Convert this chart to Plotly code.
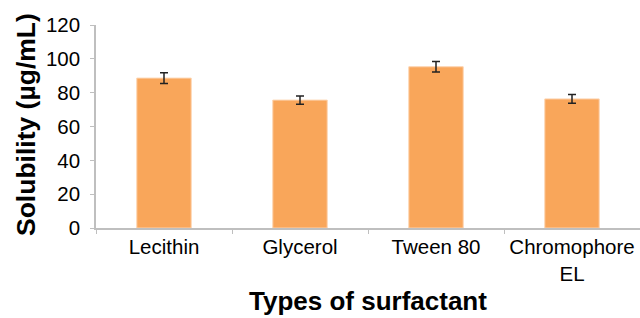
import plotly.graph_objects as go

categories = ["Lecithin", "Glycerol", "Tween 80", "Chromophore<br>EL"]
solubility = [88.6, 75.6, 95.3, 76.3]
errors = [3.2, 2.4, 3.1, 2.6]
y_ticks = [0, 20, 40, 60, 80, 100, 120]

fig = go.Figure()
fig.add_trace(go.Bar(
    x=categories,
    y=solubility,
    width=0.4,
    marker=dict(color="#F9A65A", line=dict(color="#FCD3AE", width=1)),
    error_y=dict(type="data", array=errors, visible=True,
                 color="#222222", thickness=1.5, width=4),
))

L, T, B = 96, 25, 90
W, H = 640, 318
pw = W - L
ph = H - T - B

fig.update_layout(
    width=W, height=H,
    margin=dict(l=L, r=0, t=T, b=B, autoexpand=False),
    plot_bgcolor="white", paper_bgcolor="white",
    font=dict(family="Liberation Sans, Arial, sans-serif", size=20.5, color="black"),
    showlegend=False,
)
fig.update_xaxes(
    automargin=False,
    showline=True, linecolor="#BFBFBF", linewidth=1.5,
    ticks="outside", tickson="boundaries", ticklen=4, tickcolor="#BFBFBF",
    tickfont=dict(size=20.5),
)
fig.update_yaxes(
    automargin=False,
    range=[0, 120], tickvals=y_ticks,
    showline=True, linecolor="#BFBFBF", linewidth=1.5,
    ticks="outside", ticklen=4, tickcolor="#BFBFBF",
    showgrid=False, zeroline=False,
    tickfont=dict(size=20.5),
    ticklabelstandoff=6,
)
fig.add_annotation(
    text="<b>Types of surfactant</b>", xref="paper", yref="paper",
    x=(368 - L) / pw, y=-(301 - (T + ph)) / ph, xanchor="center", yanchor="middle",
    showarrow=False, font=dict(size=26),
)
fig.add_annotation(
    text="<b>Solubility (µg/mL)</b>", xref="paper", yref="paper",
    x=(26 - L) / pw, y=((T + ph) - 125) / ph,
    xanchor="center", yanchor="middle", textangle=-90,
    showarrow=False, font=dict(size=26.5),
)

fig.write_html("out.html", config={"displayModeBar": False})

with open("out.html", "r", encoding="utf-8") as f:
    html = f.read()
html = html.replace("<body>", '<body style="margin:0;padding:0;">', 1)
with open("out.html", "w", encoding="utf-8") as f:
    f.write(html)
